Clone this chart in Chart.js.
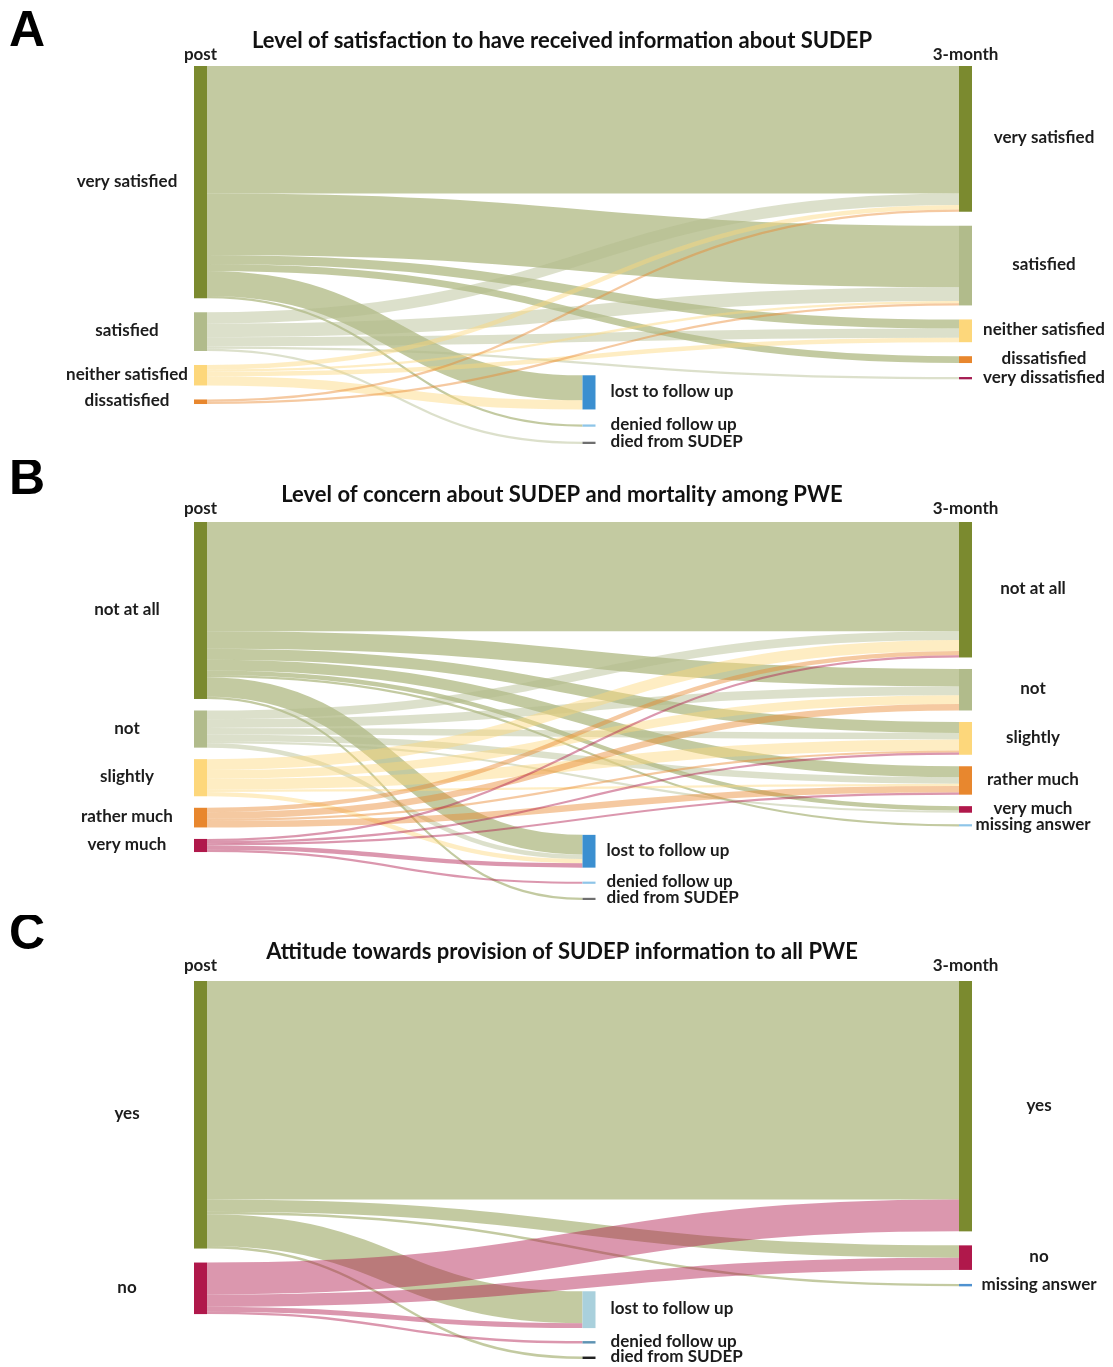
<!DOCTYPE html>
<html>
<head>
<meta charset="utf-8">
<script src="https://cdn.jsdelivr.net/npm/chart.js@4.4.1/dist/chart.umd.min.js"></script>
<style>
  html, body { margin: 0; padding: 0; background: #fff; }
  #wrap { position: relative; width: 1113px; height: 1367px; }
  canvas { position: absolute; left: 0; }
</style>
</head>
<body>
<div id="wrap">
  <canvas id="chartA" width="1113" height="460" style="top:0px"></canvas>
  <canvas id="chartB" width="1113" height="455" style="top:460px"></canvas>
  <canvas id="chartC" width="1113" height="452" style="top:915px"></canvas>
</div>
<script>
// ---- data (participants) ----
const outcomes = ['lost to follow up', 'denied follow up', 'died from SUDEP']

// A: satisfaction
const satPost = ['very satisfied', 'satisfied', 'neither satisfied', 'dissatisfied']
const sat3m = ['very satisfied', 'satisfied', 'neither satisfied', 'dissatisfied', 'very dissatisfied']
// rows = post answer, columns = 3-month answer, then the outcomes
const satFlows = [
  [56, 27, 4, 3, 0, 11, 1, 0],
  [5, 6, 4, 0, 1, 0, 0, 1],
  [2, 1, 2, 0, 0, 4, 0, 0],
  [1, 1, 0, 0, 0, 0, 0, 0]
]

// B: concern
const concernPost = ['not at all', 'not', 'slightly', 'rather much', 'very much']
const concern3m = ['not at all', 'not', 'slightly', 'rather much', 'very much', 'missing answer']
const concernFlows = [
  [50, 8, 5, 5, 2, 1, 9, 0, 1],
  [4, 4, 3, 3, 1, 0, 2, 0, 0],
  [5, 4, 5, 1, 0, 0, 2, 0, 0],
  [2, 3, 1, 3, 0, 0, 0, 0, 0],
  [1, 0, 1, 1, 0, 0, 2, 1, 0]
]

// C: attitude
const attPost = ['yes', 'no']
const att3m = ['yes', 'no', 'missing answer']
const attFlows = [
  [89, 5, 1, 13, 0, 1],
  [13, 5, 0, 2, 1, 0]
]

// ---- colours ----
const OLIVE = '#7b8a2f', LIGHT_OLIVE = '#b1bb8b', YELLOW = '#fdd77b', ORANGE = '#e8872e', CRIMSON = '#b0184b'
const satColors = {
  'very satisfied': OLIVE, 'satisfied': LIGHT_OLIVE, 'neither satisfied': YELLOW,
  'dissatisfied': ORANGE, 'very dissatisfied': '#a51c52'
}
const concernColors = {
  'not at all': OLIVE, 'not': LIGHT_OLIVE, 'slightly': YELLOW, 'rather much': ORANGE,
  'very much': CRIMSON, 'missing answer': '#8ec5e8'
}
const attColors = { 'yes': OLIVE, 'no': CRIMSON, 'missing answer': '#4f92d0' }
const outColorsAB = ['#3b8fd0', '#8ec5e8', '#6f6f6f']
const outColorsC = ['#a9d0dc', '#5e93b3', '#222222']

const panels = [
  { id: 'chartA', letter: 'A', title: 'Level of satisfaction to have received information about SUDEP',
    post: satPost, later: sat3m, flows: satFlows, colors: satColors, outColors: outColorsAB,
    top: 66, bottom: 16, yMax: 166, nodePad: 14, midPad: 15, rightLabel: 72, midLabel: 15,
    letterY: 32, titleY: 41, headY: 55 },
  { id: 'chartB', letter: 'B', title: 'Level of concern about SUDEP and mortality among PWE',
    post: concernPost, later: concern3m, flows: concernFlows, colors: concernColors, outColors: outColorsAB,
    top: 62, bottom: 15, yMax: 173, nodePad: 11.5, midPad: 14, rightLabel: 61, midLabel: 11,
    letterY: 20, titleY: 35, headY: 49 },
  { id: 'chartC', letter: 'C', title: 'Attitude towards provision of SUDEP information to all PWE',
    post: attPost, later: att3m, flows: attFlows, colors: attColors, outColors: outColorsC,
    top: 66, bottom: 8, yMax: 154, nodePad: 14, midPad: 13, rightLabel: 67, midLabel: 15,
    letterY: 20, titleY: 37, headY: 51 }
]

const NODE_W = 13
const MID_SHIFT = 6      // middle column sits a little right of centre
const LINK_ALPHA = 0.45
const LABEL_FONT = 'bold 17px Lato'

function rgba(hex, a) {
  const n = parseInt(hex.slice(1), 16)
  return `rgba(${(n >> 16) & 255}, ${(n >> 8) & 255}, ${n & 255}, ${a})`
}

const sankeyPlugin = {
  id: 'sankey',
  afterDatasetsDraw(chart, args, opts) {
    const p = opts.panel
    const { ctx } = chart
    const { x, y } = chart.scales
    const ky = y.getPixelForValue(1) - y.getPixelForValue(0)
    const padU = p.nodePad / ky
    const midPadU = p.midPad / ky
    const colX = col => x.getPixelForValue(col) + (col === 1 ? MID_SHIFT : 0)

    const left = p.post.map((name, i) => ({
      name, col: 0, color: p.colors[name], value: p.flows[i].reduce((a, b) => a + b, 0)
    }))
    const colSum = j => p.flows.reduce((a, row) => a + row[j], 0)
    const right = p.later.map((name, j) => ({ name, col: 2, color: p.colors[name], value: colSum(j) }))
    const mid = outcomes.map((name, k) => ({
      name, col: 1, color: p.outColors[k], value: colSum(p.later.length + k)
    }))

    // stack left and right columns from the top, middle column from the bottom
    let acc = 0
    left.forEach(n => { n.y0 = acc; n.y1 = acc + n.value; acc = n.y1 + padU })
    acc = 0
    right.forEach(n => { n.y0 = acc; n.y1 = acc + n.value; acc = n.y1 + padU })
    acc = y.max
    mid.slice().reverse().forEach(n => { n.y1 = acc; n.y0 = acc - n.value; acc = n.y0 - midPadU })

    const targets = right.concat(mid)
    const links = []
    p.flows.forEach((row, i) => row.forEach((v, j) => {
      if (v > 0) links.push({ s: left[i], t: targets[j], v })
    }))

    // link offsets: at source ordered by target position, at target by source position
    left.forEach(n => {
      let off = n.y0
      links.filter(l => l.s === n)
        .sort((a, b) => (a.t.y0 + a.t.y1) - (b.t.y0 + b.t.y1))
        .forEach(l => { l.sy = off + l.v / 2; off += l.v })
    })
    targets.forEach(n => {
      let off = n.y0
      links.filter(l => l.t === n).forEach(l => { l.ty = off + l.v / 2; off += l.v })
    })

    ctx.save()
    // links
    links.forEach(l => {
      const x0 = colX(l.s.col) + NODE_W
      const x1 = colX(l.t.col)
      const xm = (x0 + x1) / 2
      const y0 = y.getPixelForValue(l.sy)
      const y1 = y.getPixelForValue(l.ty)
      ctx.beginPath()
      ctx.moveTo(x0, y0)
      ctx.bezierCurveTo(xm, y0, xm, y1, x1, y1)
      ctx.strokeStyle = rgba(l.s.color, LINK_ALPHA)
      ctx.lineWidth = Math.max(1, l.v * ky)
      ctx.lineCap = 'butt'
      ctx.stroke()
    })

    // nodes
    left.concat(targets).forEach(n => {
      const px = colX(n.col)
      const py0 = y.getPixelForValue(n.y0)
      const py1 = y.getPixelForValue(n.y1)
      ctx.fillStyle = n.color
      ctx.fillRect(px, py0, NODE_W, Math.max(2, py1 - py0))
    })

    // node labels
    ctx.fillStyle = '#1c1c1c'
    ctx.font = LABEL_FONT
    ctx.textBaseline = 'middle'
    const cy = n => (y.getPixelForValue(n.y0) + y.getPixelForValue(n.y1)) / 2 - 1
    ctx.textAlign = 'center'
    left.forEach(n => ctx.fillText(n.name, colX(0) - 67, cy(n)))
    right.forEach(n => ctx.fillText(n.name, colX(2) + NODE_W + p.rightLabel, cy(n)))
    ctx.textAlign = 'left'
    mid.forEach(n => ctx.fillText(n.name, colX(1) + NODE_W + p.midLabel, cy(n)))

    // column headers
    ctx.textAlign = 'center'
    ctx.fillText('post', colX(0) + NODE_W / 2, p.headY)
    ctx.fillText('3-month', colX(2) + NODE_W / 2, p.headY)

    // title and panel letter
    ctx.font = 'bold 22px Lato'
    ctx.fillStyle = '#111'
    ctx.fillText(p.title, 562, p.titleY)
    ctx.font = 'bold 50px "Liberation Sans"'
    ctx.textAlign = 'left'
    ctx.fillStyle = '#000'
    ctx.fillText(p.letter, 9, p.letterY)
    ctx.restore()
  }
}

panels.forEach(p => {
  new Chart(document.getElementById(p.id), {
    type: 'scatter',
    data: { datasets: [] },
    options: {
      responsive: false,
      animation: false,
      layout: { padding: { left: 194, right: 154, top: p.top, bottom: p.bottom } },
      scales: {
        x: { type: 'linear', min: 0, max: 2, display: false },
        y: { type: 'linear', min: 0, max: p.yMax, reverse: true, display: false }
      },
      plugins: {
        legend: { display: false },
        tooltip: { enabled: false },
        sankey: { panel: p }
      }
    },
    plugins: [sankeyPlugin]
  })
})
</script>
</body>
</html>
